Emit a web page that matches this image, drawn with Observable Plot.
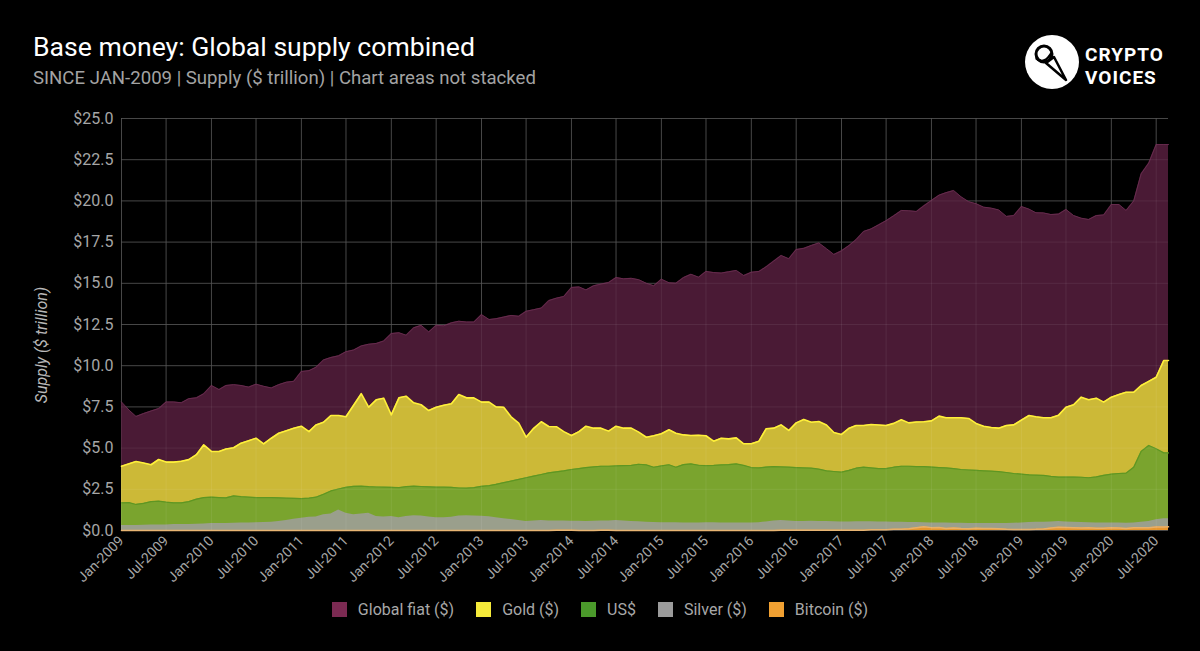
<!DOCTYPE html>
<html><head><meta charset="utf-8">
<script src="https://cdn.jsdelivr.net/npm/d3@7"></script>
<script src="https://cdn.jsdelivr.net/npm/@observablehq/plot@0.6"></script>
<style>
html,body{margin:0;padding:0;background:#000;width:1200px;height:651px;overflow:hidden;font-family:Roboto,sans-serif;}
#header{position:relative;height:100px;}
#title{position:absolute;left:33px;top:34px;font-size:26.6px;line-height:1;color:#fff;white-space:nowrap;}
#subtitle{position:absolute;left:33px;top:69px;font-size:18.6px;line-height:1;color:#a3a3a3;white-space:nowrap;}
#logo{position:absolute;left:0;top:0;}
#chart{height:490px;}
#legend{display:flex;justify-content:center;align-items:center;height:38px;}
.item{display:flex;align-items:center;margin:0 11px;}
.sw{width:15px;height:15px;margin-right:11px;}
.lab{font-size:16px;color:#a8a8a8;white-space:nowrap;}
</style></head>
<body>
<div id="header">
  <svg id="logo" width="1200" height="100">
    <circle cx="1052" cy="62" r="27" fill="#fff"/>
    <circle cx="1044" cy="54" r="8" fill="none" stroke="#000" stroke-width="3"/>
    <path d="M1036,58 Q1044,66 1052,52" fill="none" stroke="#000" stroke-width="2.5"/>
    <path d="M1046,63 L1054,57 L1066,80 Z" fill="#fff" stroke="#000" stroke-width="2.5" stroke-linejoin="round"/>
    <text x="1085" y="61" fill="#fff" font-family="Roboto, sans-serif" font-weight="700" font-size="19" letter-spacing="1">CRYPTO</text>
    <text x="1085" y="84" fill="#fff" font-family="Roboto, sans-serif" font-weight="700" font-size="19" letter-spacing="1">VOICES</text>
  </svg>
  <div id="title">Base money: Global supply combined</div>
  <div id="subtitle">SINCE JAN-2009 | Supply ($ trillion) | Chart areas not stacked</div>
</div>
<div id="chart"></div>
<div id="legend"></div>
<script>
// Monthly observations Jan-2009 .. Aug-2020, plus a final mid-August 2020 reading
const monthDates = d3.utcMonth.range(new Date(Date.UTC(2009,0,1)), new Date(Date.UTC(2020,8,1)));
const lastDate = new Date(Date.UTC(2020,7,20));
const dates = [...monthDates, lastDate];

const seriesNames = ["Global fiat ($)", "Gold ($)", "US$", "Silver ($)", "Bitcoin ($)"];
const seriesColors = ["#7b2a52", "#f5ea3a", "#4b9a2b", "#9b9b9b", "#f0a032"];

const globalFiat = [
 7.8,7.3,6.92,7.1,7.25,7.4,7.8,7.8,7.75,8.0,
 8.05,8.3,8.8,8.55,8.8,8.85,8.8,8.7,8.88,8.75,
 8.65,8.85,9.0,9.05,9.65,9.7,9.9,10.35,10.5,10.6,
 10.85,10.95,11.2,11.3,11.35,11.5,11.95,12.0,11.85,12.3,
 12.45,12.05,12.45,12.42,12.6,12.7,12.65,12.65,13.1,12.8,
 12.85,12.95,13.05,13.0,13.3,13.4,13.5,13.95,14.1,14.2,
 14.75,14.78,14.6,14.85,14.95,15.05,15.35,15.27,15.3,15.22,
 15.0,14.85,15.25,15.03,15.01,15.35,15.55,15.37,15.72,15.65,
 15.62,15.7,15.78,15.47,15.67,15.72,16.0,16.35,16.69,16.49,
 17.05,17.12,17.3,17.45,17.1,16.75,16.97,17.3,17.65,18.15,
 18.3,18.55,18.8,19.1,19.42,19.4,19.36,19.7,20.03,20.35,
 20.5,20.63,20.25,19.95,19.83,19.62,19.56,19.45,19.06,19.11,
 19.66,19.5,19.28,19.27,19.17,19.2,19.48,19.11,18.95,18.87,
 19.11,19.15,19.78,19.78,19.42,20.0,21.64,22.3,23.42,23.42, 23.42];

const gold = [
 3.9,4.05,4.19,4.1,3.99,4.31,4.15,4.15,4.2,4.3,
 4.6,5.2,4.8,4.79,4.95,5.02,5.3,5.45,5.6,5.26,
 5.6,5.9,6.05,6.2,6.33,6.0,6.4,6.57,6.98,6.98,
 6.9,7.6,8.3,7.48,7.93,8.03,7.02,8.05,8.15,7.75,
 7.63,7.28,7.48,7.6,7.69,8.25,8.05,8.05,7.79,7.79,
 7.5,7.48,6.9,6.51,5.66,6.2,6.6,6.31,6.3,6.0,
 5.76,6.0,6.33,6.21,6.21,6.03,6.33,6.21,6.21,5.97,
 5.66,5.75,5.87,6.11,5.9,5.8,5.76,5.78,5.75,5.42,
 5.6,5.56,5.62,5.26,5.26,5.42,6.17,6.21,6.41,6.07,
 6.53,6.74,6.57,6.61,6.4,5.95,5.83,6.21,6.37,6.37,
 6.43,6.4,6.37,6.5,6.72,6.53,6.58,6.6,6.65,6.94,
 6.84,6.84,6.84,6.8,6.5,6.33,6.25,6.21,6.37,6.41,
 6.7,6.98,6.9,6.84,6.84,7.0,7.48,7.63,8.09,7.93,
 8.03,7.79,8.09,8.25,8.39,8.39,8.8,9.05,9.3,10.32, 10.32];

const usDollar = [
 1.68,1.69,1.58,1.65,1.75,1.78,1.72,1.68,1.68,1.75,
 1.9,2.0,2.02,2.0,1.98,2.1,2.05,2.02,2.0,2.0,
 2.0,1.98,1.96,1.95,1.94,1.96,2.02,2.2,2.4,2.52,
 2.62,2.68,2.69,2.66,2.64,2.63,2.62,2.6,2.66,2.69,
 2.67,2.65,2.63,2.63,2.62,2.58,2.57,2.6,2.68,2.72,
 2.8,2.9,3.0,3.1,3.2,3.3,3.4,3.5,3.56,3.62,
 3.7,3.76,3.82,3.86,3.9,3.9,3.92,3.94,3.95,4.02,
 3.98,3.84,3.92,3.99,3.84,4.0,4.04,3.96,3.94,3.95,
 3.98,4.0,4.04,3.95,3.82,3.8,3.85,3.88,3.86,3.84,
 3.82,3.8,3.78,3.72,3.62,3.58,3.54,3.65,3.78,3.84,
 3.8,3.76,3.76,3.84,3.9,3.9,3.88,3.88,3.85,3.82,
 3.8,3.76,3.7,3.67,3.65,3.62,3.6,3.57,3.52,3.46,
 3.42,3.38,3.36,3.34,3.28,3.24,3.24,3.24,3.23,3.2,
 3.25,3.35,3.42,3.46,3.48,3.84,4.8,5.16,4.96,4.71, 4.71];

const silver = [
 0.30,0.30,0.30,0.32,0.33,0.33,0.34,0.36,0.36,0.37,
 0.38,0.40,0.42,0.42,0.43,0.44,0.45,0.46,0.47,0.48,
 0.50,0.55,0.60,0.68,0.75,0.80,0.82,0.95,1.00,1.25,
 1.05,0.95,1.00,1.05,0.85,0.82,0.85,0.78,0.85,0.90,
 0.88,0.82,0.78,0.78,0.80,0.88,0.90,0.88,0.86,0.84,
 0.78,0.72,0.66,0.60,0.55,0.58,0.60,0.58,0.57,0.58,
 0.56,0.56,0.55,0.56,0.57,0.58,0.60,0.58,0.55,0.53,
 0.50,0.48,0.47,0.47,0.47,0.46,0.45,0.46,0.47,0.47,
 0.46,0.46,0.45,0.45,0.45,0.47,0.52,0.58,0.60,0.58,
 0.55,0.55,0.56,0.55,0.54,0.53,0.52,0.52,0.53,0.53,
 0.53,0.52,0.52,0.50,0.50,0.48,0.48,0.47,0.46,0.45,
 0.45,0.44,0.44,0.43,0.43,0.43,0.42,0.42,0.43,0.44,
 0.46,0.48,0.50,0.50,0.52,0.54,0.52,0.50,0.48,0.47,
 0.46,0.46,0.45,0.45,0.44,0.45,0.50,0.55,0.65,0.72, 0.72];

const bitcoin = [
 0,0,0,0,0,0,0,0,0,0,0,0,
 0,0,0,0,0,0,0,0,0,0,0,0,
 0,0,0,0,0,0,0,0,0,0,0,0,
 0,0,0,0,0,0,0,0,0,0,0,0,
 0.0002,0.0003,0.001,0.001,0.0013,0.001,0.001,0.0012,0.0015,0.0025,0.011,0.009,
 0.0105,0.0075,0.006,0.0058,0.0078,0.0083,0.0074,0.0065,0.005,0.0045,0.0051,0.0042,
 0.003,0.0036,0.0034,0.0033,0.0032,0.0038,0.0041,0.0033,0.0035,0.0047,0.0055,0.0066,
 0.0058,0.0067,0.0064,0.0069,0.0083,0.0107,0.0098,0.0091,0.0097,0.0112,0.0119,0.0155,
 0.0158,0.0193,0.0176,0.0221,0.0385,0.0404,0.0472,0.0775,0.0717,0.1058,0.1665,0.2334,
 0.1744,0.1763,0.1179,0.1588,0.1288,0.1092,0.1337,0.1213,0.1144,0.1101,0.0703,0.0655,
 0.0603,0.0668,0.0718,0.0944,0.151,0.1937,0.1791,0.1671,0.1495,0.1646,0.1363,0.1304,
 0.1704,0.1556,0.1174,0.1603,0.1737,0.1683,0.2078,0.2147, 0.22];

const yTicks = [0,2.5,5,7.5,10,12.5,15,17.5,20,22.5,25];
const xTicks = d3.utcMonth.every(6).range(new Date(Date.UTC(2009,0,1)), new Date(Date.UTC(2020,7,1)));

const rows = dates.map((d,i) => ({date:d, fiat:globalFiat[i], gold:gold[i], usd:usDollar[i], silver:silver[i], bitcoin:bitcoin[i]}));

const chart = Plot.plot({
  width:1200, height:490,
  marginLeft:121, marginRight:32, marginTop:18, marginBottom:60,
  style:{background:"#000", color:"#a6a6a6", fontFamily:"Roboto, sans-serif", fontSize:"16px"},
  x:{type:"utc", domain:[dates[0], dates[dates.length-1]]},
  y:{domain:[0,25]},
  marks:[
    Plot.gridY(yTicks,{stroke:"#3a3a3a", strokeOpacity:1}),
    Plot.gridX(xTicks,{stroke:"#3a3a3a", strokeOpacity:1}),
    Plot.areaY(rows,{x:"date", y:"fiat", fill:"#4a1a35"}),
    Plot.lineY(rows,{x:"date", y:"fiat", stroke:"#662b4d", strokeWidth:1}),
    Plot.areaY(rows,{x:"date", y:"gold", fill:"#ccb937"}),
    Plot.lineY(rows,{x:"date", y:"gold", stroke:"#fff03a", strokeWidth:1.6}),
    Plot.areaY(rows,{x:"date", y:"usd", fill:"#7aa42e"}),
    Plot.lineY(rows,{x:"date", y:"usd", stroke:"#5e9622", strokeWidth:1.2}),
    Plot.areaY(rows,{x:"date", y:"silver", fill:"#9a9f8c"}),
    Plot.areaY(rows,{x:"date", y:"bitcoin", fill:"#e8972e"}),
    Plot.lineY(rows,{x:"date", y:"bitcoin", stroke:"#e7b06a", strokeWidth:1.5}),
    Plot.gridY(yTicks,{stroke:"#fff", strokeOpacity:0.07}),
    Plot.gridX(xTicks,{stroke:"#fff", strokeOpacity:0.07}),
    Plot.axisY(yTicks,{tickSize:0, tickPadding:8, tickFormat:d => "$" + d.toFixed(1), label:null, fontSize:16}),
    Plot.axisX(xTicks,{tickSize:0, tickPadding:8, tickRotate:-45, tickFormat:d3.utcFormat("%b-%Y"), label:null, fontSize:14})
  ]
});
document.getElementById("chart").appendChild(chart);

d3.select(chart).append("text")
  .attr("transform", "translate(47,245) rotate(-90)")
  .attr("text-anchor", "middle")
  .attr("fill", "#b8b8b8")
  .attr("font-style", "italic")
  .attr("font-size", 16)
  .attr("font-family", "Roboto, sans-serif")
  .text("Supply ($ trillion)");

const legend = d3.select("#legend");
seriesNames.forEach((n,i) => {
  const it = legend.append("div").attr("class","item");
  it.append("div").attr("class","sw").style("background", seriesColors[i]);
  it.append("div").attr("class","lab").text(n);
});
</script>
</body></html>
